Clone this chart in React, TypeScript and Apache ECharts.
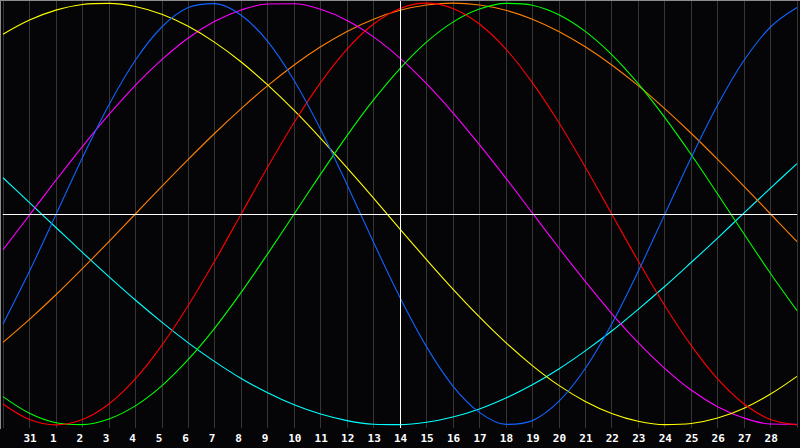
import React, { useEffect, useRef } from "react";
import * as echarts from "echarts";

// Day labels for each vertical grid line (index 0..30)
const dayLabels = [
  "", "31", "1", "2", "3", "4", "5", "6", "7", "8", "9", "10", "11", "12", "13", "14",
  "15", "16", "17", "18", "19", "20", "21", "22", "23", "24", "25", "26", "27", "28", "",
];

// Values (percent) read at each grid line
const blueValues = [-52.2, -27.2, -0.3, 26.7, 51.7, 72.9, 88.7, 97.9, 99.8, 94.3, 81.9, 63.3, 40.1, 13.9, -13.4, -39.6, -62.9, -81.6, -94.1, -99.8, -98.0, -88.9, -73.3, -52.2, -27.2, -0.3, 26.7, 51.7, 72.9, 88.7, 97.9];
const redValues = [-90.1, -97.5, -100, -97.5, -90.1, -78.2, -62.3, -43.4, -22.3, 0, 22.3, 43.4, 62.3, 78.2, 90.1, 97.5, 100, 97.5, 90.1, 78.2, 62.3, 43.4, 22.3, 0, -22.3, -43.4, -62.3, -78.2, -90.1, -97.5, -100];
const greenValues = [-86.6, -94.5, -99.0, -99.9, -97.2, -91.0, -81.5, -69.0, -54.1, -37.2, -18.9, 0, 18.9, 37.2, 54.1, 69.0, 81.5, 91.0, 97.2, 99.9, 99.0, 94.5, 86.6, 75.6, 61.8, 45.8, 28.2, 9.5, -9.5, -28.2, -45.8];
const yellowValues = [85.3, 92.0, 96.7, 99.4, 99.9, 98.4, 94.7, 89.0, 81.4, 72.1, 61.2, 49.1, 35.9, 21.9, 7.5, -7.2, -21.6, -35.6, -48.8, -61.0, -71.9, -81.3, -88.9, -94.6, -98.3, -99.9, -99.4, -96.8, -92.1, -85.4, -77.0];
const magentaValues = [-17.0, -0.5, 16.0, 32.0, 47.1, 61.0, 73.2, 83.5, 91.4, 96.8, 99.6, 99.7, 97.1, 91.8, 84.0, 73.9, 61.8, 48.0, 32.9, 17.0, 0.5, -16.0, -32.0, -47.2, -61.0, -73.2, -83.5, -91.4, -96.8, -99.6, -99.7];
const orangeValues = [-60.9, -50, -38.3, -25.9, -13.1, 0, 13.1, 25.9, 38.3, 50, 60.9, 70.7, 79.3, 86.6, 92.4, 96.6, 99.1, 100, 99.1, 96.6, 92.4, 86.6, 79.3, 70.7, 60.9, 50, 38.3, 25.9, 13.1, 0, -13.1];
const cyanValues = [17.2, 5.4, -6.4, -18.2, -29.7, -40.8, -51.3, -61.1, -70.0, -78.0, -84.8, -90.5, -94.9, -98.0, -99.7, -99.9, -98.8, -96.3, -92.5, -87.3, -81.0, -73.5, -64.9, -55.5, -45.2, -34.4, -23.0, -11.4, 0.5, 12.3, 23.9];

const todayIndex = 15;

const curves = [
  { name: "cyan", color: "#00ffff", values: cyanValues },
  { name: "orange", color: "#ff8000", values: orangeValues },
  { name: "magenta", color: "#ff00ff", values: magentaValues },
  { name: "yellow", color: "#ffff00", values: yellowValues },
  { name: "green", color: "#00ff00", values: greenValues },
  { name: "red", color: "#ff0000", values: redValues },
  { name: "blue", color: "#1064ff", values: blueValues },
];

export default function App() {
  const ref = useRef<HTMLDivElement>(null);
  useEffect(() => {
    if (!ref.current) return;
    const chart = echarts.init(ref.current, undefined, { renderer: "svg" });
    const series: any[] = curves.map((c) => ({
      type: "line",
      name: c.name,
      data: c.values.map((v, i) => [i, v]),
      smooth: 0.34,
      showSymbol: false,
      symbol: "none",
      lineStyle: { color: c.color, width: 1.1 },
      silent: true,
      z: 3,
    }));
    series.push({
      type: "line",
      name: "refs",
      data: [],
      markLine: {
        silent: true,
        symbol: "none",
        label: { show: false },
        lineStyle: { color: "#ffffff", width: 1, type: "solid" },
        data: [{ xAxis: todayIndex }, { yAxis: 0 }],
      },
      z: 2,
    });
    chart.setOption({
      animation: false,
      backgroundColor: "#050508",
      grid: { left: 0, right: 0, top: 0, bottom: 20, containLabel: false },
      xAxis: {
        type: "value",
        min: 0,
        max: 30,
        interval: 1,
        axisLine: { show: true, lineStyle: { color: "#8c8c8c", width: 1 } },
        axisTick: { show: false },
        splitLine: { show: true, lineStyle: { color: "#353535", width: 1 } },
        axisLabel: {
          show: true,
          margin: 5,
          formatter: (v: number) => {
            const t = dayLabels[Math.round(v)] ?? "";
            return t ? "{d|" + t + "}" : "";
          },
          rich: {
            d: {
              width: 12,
              align: "left",
              color: "#ffffff",
              fontFamily: "DejaVu Sans Mono",
              fontWeight: "bold",
              fontSize: 11,
            },
          },
        },
      },
      yAxis: {
        type: "value",
        min: -101.5,
        max: 101.5,
        axisLine: { show: false },
        axisTick: { show: false },
        axisLabel: { show: false },
        splitLine: { show: false },
      },
      graphic: [
        { type: "rect", left: 0, top: 0, shape: { x: 0, y: 0, width: 1, height: 429 }, style: { fill: "#8c8c8c" }, silent: true, z: 10 },
        { type: "rect", left: 0, top: 0, shape: { x: 0, y: 0, width: 800, height: 1 }, style: { fill: "#8c8c8c" }, silent: true, z: 10 },
      ],
      series,
    });
    return () => chart.dispose();
  }, []);
  return (
    <div
      ref={ref}
      style={{ position: "absolute", left: 0, top: 0, width: 800, height: 448 }}
    />
  );
}
